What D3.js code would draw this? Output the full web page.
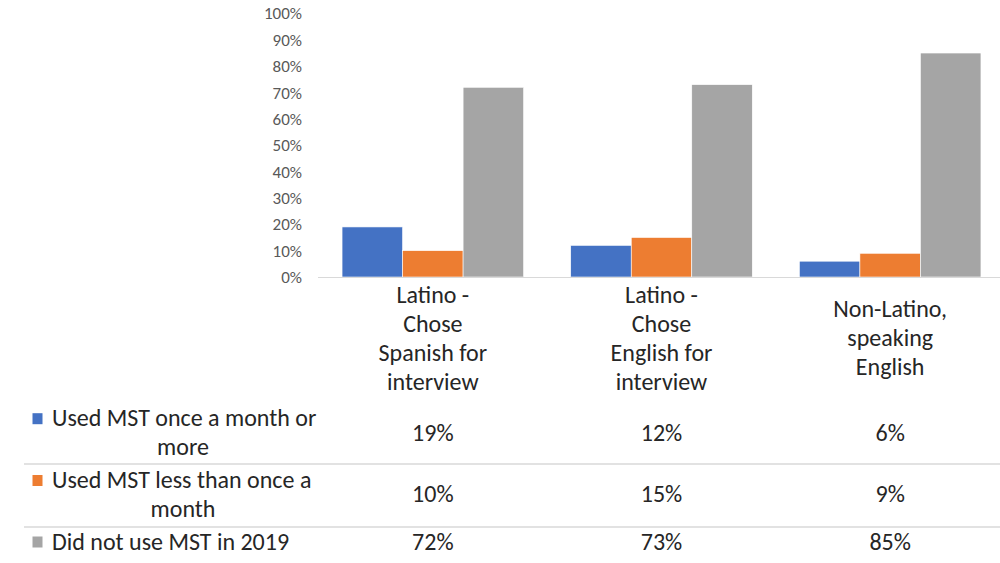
<!DOCTYPE html>
<html>
<head>
<meta charset="utf-8">
<script src="https://cdn.jsdelivr.net/npm/d3@7"></script>
<style>
  html, body { margin: 0; padding: 0; background: #fff; }
  svg { display: block; font-family: Carlito, "Liberation Sans", Arial, sans-serif; }
</style>
</head>
<body>
<svg id="chart" width="1000" height="563"></svg>
<script>
// Categories (wrapped lines as drawn under the axis)
const categories = [
  ["Latino -", "Chose", "Spanish for", "interview"],
  ["Latino -", "Chose", "English for", "interview"],
  ["Non-Latino,", "speaking", "English"]
];
const categoryKeys = ["Latino - Chose Spanish for interview",
                      "Latino - Chose English for interview",
                      "Non-Latino, speaking English"];

// Series names (wrapped lines in the data table)
const seriesNames = [
  ["Used MST once a month or", "more"],
  ["Used MST less than once a", "month"],
  ["Did not use MST in 2019"]
];
const seriesColors = ["#4472C4", "#ED7D31", "#A5A5A5"];

// Values per series, in category order (percent)
const usedMonthly = [19, 12, 6];
const usedLess = [10, 15, 9];
const didNotUse = [72, 73, 85];
const seriesValues = [usedMonthly, usedLess, didNotUse];

const yTicks = [0, 10, 20, 30, 40, 50, 60, 70, 80, 90, 100];

const svg = d3.select("#chart");
const fontSize = 24;
const textColor = "#262626";

const x = d3.scaleBand()
  .domain(categoryKeys)
  .range([318.5, 1004.5])
  .paddingInner(0.206)
  .paddingOuter(0.103);

const xInner = d3.scaleBand()
  .domain(d3.range(seriesValues.length))
  .range([0, x.bandwidth()]);

const y = d3.scaleLinear().domain([0, 100]).range([277, 13.5]);

// Y axis labels (no axis line, no gridlines)
const yAxis = d3.axisLeft(y)
  .tickValues(yTicks)
  .tickFormat(d => d + "%")
  .tickSize(0)
  .tickPadding(0);
const yg = svg.append("g").attr("transform", "translate(302,0)").call(yAxis);
yg.select(".domain").remove();
yg.selectAll("text")
  .attr("fill", "#595959")
  .style("font-size", "17px")
  .style("font-family", 'Carlito, "Liberation Sans", Arial, sans-serif');

// Bars
seriesValues.forEach((vals, si) => {
  svg.append("g")
    .selectAll("rect")
    .data(vals)
    .join("rect")
    .attr("x", (d, i) => x(categoryKeys[i]) + xInner(si))
    .attr("y", d => y(d))
    .attr("width", xInner.bandwidth())
    .attr("height", d => y(0) - y(d))
    .attr("fill", seriesColors[si])
    .attr("stroke", "#ffffff")
    .attr("stroke-width", 0.6);
});

// Category axis line
svg.append("line")
  .attr("x1", 318).attr("x2", 1000)
  .attr("y1", y(0) + 0.5).attr("y2", y(0) + 0.5)
  .attr("stroke", "#d9d9d9").attr("stroke-width", 1.2);

// Category labels
const lineH = 29;
categories.forEach((lines, i) => {
  const cx = x(categoryKeys[i]) + x.bandwidth() / 2;
  const top = 346.2 - (lines.length - 1) * lineH / 2;
  const t = svg.append("text")
    .attr("text-anchor", "middle")
    .attr("fill", textColor)
    .style("font-size", fontSize + "px");
  lines.forEach((ln, j) => {
    t.append("tspan").attr("x", cx).attr("y", top + j * lineH).text(ln);
  });
});

// Data table rows
const rowMid = [440.5, 502.3, 549.5];
const labelStart = 52;
const labelCenter = 183;
seriesNames.forEach((lines, si) => {
  const top = rowMid[si] - (lines.length - 1) * 28.6 / 2;
  // legend key
  svg.append("rect")
    .attr("x", 32.5).attr("y", top - 13)
    .attr("width", 10).attr("height", 11)
    .attr("fill", seriesColors[si]);
  lines.forEach((ln, j) => {
    svg.append("text")
      .attr("x", j === 0 ? labelStart : labelCenter)
      .attr("y", top + j * 28.6)
      .attr("text-anchor", j === 0 ? "start" : "middle")
      .attr("fill", textColor)
      .style("font-size", fontSize + "px")
      .text(ln);
  });
  // values
  svg.append("g")
    .selectAll("text")
    .data(seriesValues[si])
    .join("text")
    .attr("x", (d, i) => x(categoryKeys[i]) + x.bandwidth() / 2)
    .attr("y", rowMid[si])
    .attr("text-anchor", "middle")
    .attr("fill", textColor)
    .style("font-size", fontSize + "px")
    .text(d => d + "%");
});

// Table separators
[464, 527].forEach(yy => {
  svg.append("line")
    .attr("x1", 24).attr("x2", 1000)
    .attr("y1", yy).attr("y2", yy)
    .attr("stroke", "#d9d9d9").attr("stroke-width", 1.5);
});
</script>
</body>
</html>
